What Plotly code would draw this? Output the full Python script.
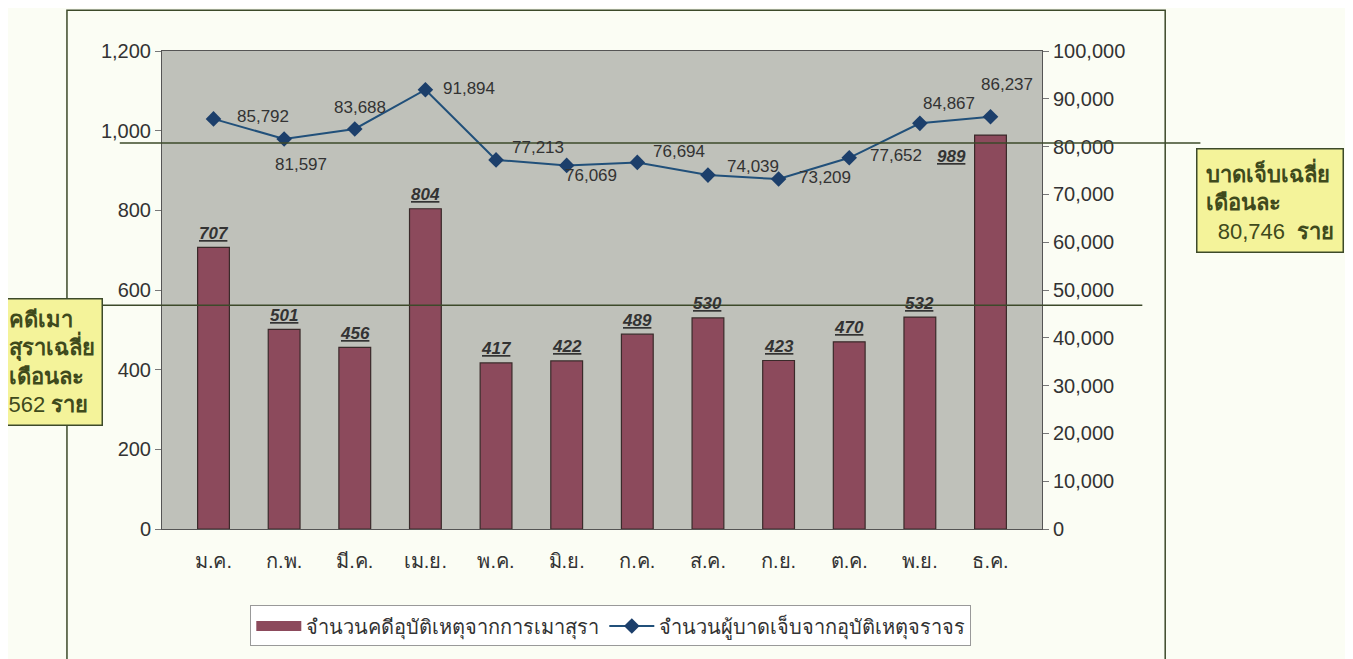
import plotly.graph_objects as go

months = ["ม.ค.", "ก.พ.", "มี.ค.", "เม.ย.", "พ.ค.", "มิ.ย.",
          "ก.ค.", "ส.ค.", "ก.ย.", "ต.ค.", "พ.ย.", "ธ.ค."]
drunk_cases = [707, 501, 456, 804, 417, 422, 489, 530, 423, 470, 532, 989]
injured = [85792, 81597, 83688, 91894, 77213, 76069,
           76694, 74039, 73209, 77652, 84867, 86237]

# label offsets in pixels (dx, dy) for the injured labels
injured_shift = [(49, 2), (17, -26), (5, 21), (44, 1), (42, 12), (24, -10),
                 (42, 11), (45, 9), (46, 2), (47, 2), (29, 20), (16, 32)]

bar_name = "จำนวนคดีอุบัติเหตุจากการเมาสุรา"
line_name = "จำนวนผู้บาดเจ็บจากอุบัติเหตุจราจร"

avg_cases = round(sum(drunk_cases) / len(drunk_cases))
avg_injured = round(sum(injured) / len(injured))

font = "Liberation Sans, Arial, sans-serif"
text_col = "#333333"
box_col = "#3f4a1c"
bar_col = "#8c4a5c"

fig = go.Figure()
fig.add_trace(go.Bar(
    x=months, y=drunk_cases, name=bar_name, width=0.45, showlegend=False,
    marker=dict(color=bar_col, line=dict(color="#3a2a2a", width=1.2)),
))
# legend swatch drawn as a wide block, like the original
fig.add_trace(go.Scatter(
    x=[None], y=[None], name=bar_name, mode="lines",
    line=dict(color=bar_col, width=13),
))
fig.add_trace(go.Scatter(
    x=months, y=injured, name=line_name, yaxis="y2",
    mode="lines+markers",
    line=dict(color="#21507a", width=2),
    marker=dict(symbol="diamond", size=12, color="#1c3f6b"),
))

# injured value labels
for m, v, (dx, dy) in zip(months, injured, injured_shift):
    fig.add_annotation(
        x=m, y=v, xref="x", yref="y2", text=f"{v:,}", showarrow=False,
        xshift=dx, yshift=dy,
        font=dict(size=17, color=text_col, family=font),
    )

# bar value labels
for i, (m, v) in enumerate(zip(months, drunk_cases)):
    last = i == len(months) - 1
    fig.add_annotation(
        x=m, y=v, xref="x", yref="y",
        text=f"<b><i><u>{v}</u></i></b>", showarrow=False,
        yshift=-21 if last else 14, xshift=-39 if last else 0,
        font=dict(size=17, color=text_col, family=font),
    )

# average lines
fig.add_shape(type="line", xref="paper", yref="y2", x0=-0.048, x1=1.18,
              y0=avg_injured, y1=avg_injured, line=dict(color="#3d4a2a", width=1.5))
fig.add_shape(type="line", xref="paper", yref="y", x0=-0.07, x1=1.114,
              y0=avg_cases, y1=avg_cases, line=dict(color="#3d4a2a", width=1.5))

# outer chart frame
fig.add_shape(type="rect", xref="paper", yref="paper", x0=-0.108, x1=1.14,
              y0=-0.3, y1=1.085, line=dict(color="#3d4a2a", width=1.5), layer="below")

fig.add_annotation(
    xref="paper", yref="paper", x=-0.126, y=0.35, xanchor="center", yanchor="middle",
    showarrow=False,
    text=f"<b>คดีเมา<br>สุราเฉลี่ย<br>เดือนละ</b><br>{avg_cases} <b>ราย</b>",
    align="left", bgcolor="#f4f39a", bordercolor="#3d4a2a", borderwidth=1.5,
    borderpad=7, font=dict(size=22, color=box_col, family=font),
)
fig.add_annotation(
    xref="paper", yref="paper", x=1.259, y=0.688, xanchor="center", yanchor="middle",
    showarrow=False,
    text=f"<b>บาดเจ็บเฉลี่ย<br>เดือนละ</b><br>  {avg_injured:,}  <b>ราย</b>",
    align="left", bgcolor="#f4f39a", bordercolor="#3d4a2a", borderwidth=1.5,
    borderpad=8, font=dict(size=22, color=box_col, family=font),
)

fig.update_layout(
    width=1345, height=651,
    margin=dict(l=154, r=311, t=43, b=127),
    paper_bgcolor="#fbfdf4", plot_bgcolor="#bfc1ba",
    font=dict(family=font, size=20, color=text_col),
    showlegend=True,
    legend=dict(orientation="h", x=0.51, xanchor="center", y=-0.16, yanchor="top",
                bgcolor="#ffffff", bordercolor="#999999", borderwidth=1,
                itemwidth=45, font=dict(size=20, color=text_col)),
    xaxis=dict(showgrid=False, ticks="", tickfont=dict(size=20), ticklabelstandoff=14,
               showline=True, linecolor="#555555", mirror=True),
    yaxis=dict(range=[0, 1200], dtick=200, tickformat=",", showgrid=False,
               ticks="outside", ticklen=6, tickcolor="#777777",
               showline=True, linecolor="#555555", zeroline=False),
    yaxis2=dict(range=[0, 100000], dtick=10000, tickformat=",", showgrid=False,
                overlaying="y", side="right", ticks="outside", ticklen=6,
                tickcolor="#777777", showline=True, linecolor="#555555",
                zeroline=False),
)

fig.write_html("out.html")
